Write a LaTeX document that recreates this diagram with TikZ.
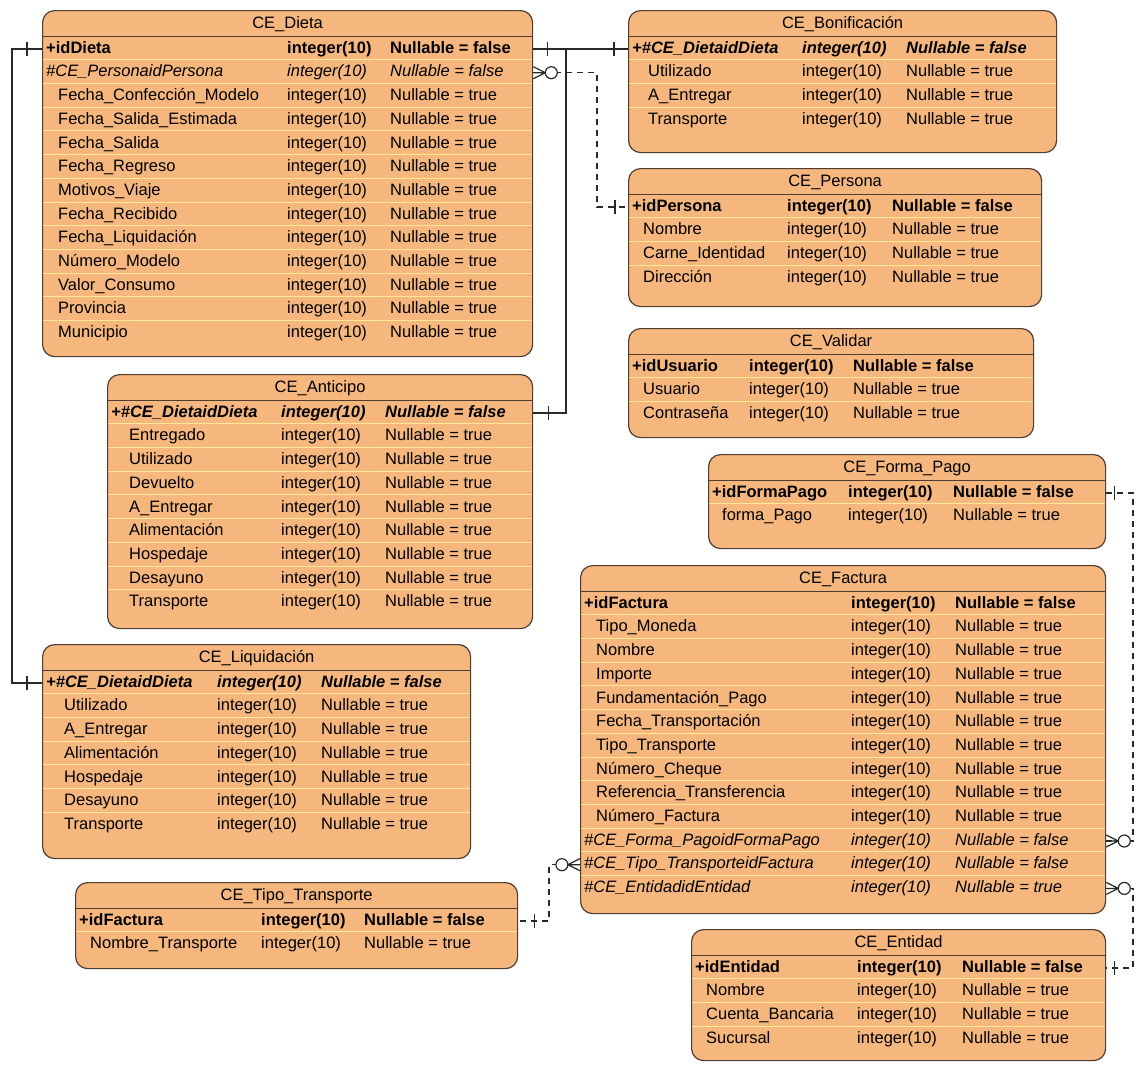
\documentclass[tikz,border=0pt]{standalone}
\usepackage{fontspec}
\setmainfont{Liberation Sans}
\usetikzlibrary{calc,decorations.markings}
\definecolor{naranja}{RGB}{246,183,126}
\definecolor{amarillo}{RGB}{255,232,150}
\definecolor{cafe}{RGB}{78,62,50}
\definecolor{gris}{RGB}{40,40,40}
\newcommand\letra{\fontsize{16.5}{19}\selectfont}
\tikzstyle{tabla}=[draw=cafe,fill=naranja,line width=1.2pt,rounded corners=12pt,anchor=north west,inner sep=0pt]
\tikzstyle{titulo}=[font=\letra,text height=12pt,text depth=3.5pt,inner sep=0pt]
\tikzstyle{campo}=[anchor=west,text height=12pt,text depth=3.5pt,inner ysep=0pt]
\tikzstyle{borde}=[draw=cafe,line width=1pt]
\tikzstyle{fila}=[draw=amarillo,line width=1pt]
\tikzstyle{rel}=[draw=gris,line width=1.2pt]
\tikzstyle{opc}=[rel,dash pattern=on 6pt off 5pt]
\tikzstyle{marca}=[draw=gris,solid,line width=1.2pt]
\tikzset{
  pk/.style={font=\letra\bfseries,inner xsep=0pt},
  fk/.style={font=\letra\itshape,inner xsep=0pt},
  pfk/.style={font=\letra\bfseries\itshape,inner xsep=0pt},
  nor/.style={font=\letra,inner xsep=#1},
  uno/.style={postaction={decorate,decoration={markings,
    mark=at position #1 with {\draw[marca] (0,-7pt) -- (0,7pt);}}}},
  muchos/.style={postaction={decorate,decoration={markings,
    mark=at position 0.1pt with {\draw[marca] (0,-6pt) -- (12pt,0) -- (0,6pt) (0,0) -- (12pt,0);
      \draw[marca,fill=white] (18pt,0) circle (6pt);}}}}
}
% #1 nombre, #2 esquina, #3 ancho, #4 alto, #5 titulo, #6 col. tipo, #7 col. nulo, #8 sangria, #9 filas
\newcommand\tabla[9]{%
  \node[tabla,minimum width=#3pt,minimum height=#4pt] (#1) at (#2) {};
  \node[titulo] (#1-t) at ($(#1.north)+(0,14)$) {#5};
  \draw[borde] ($(#1.north west)+(0,26)$) -- ($(#1.north east)+(0,26)$);
  \foreach \est/\nom/\nul [count=\idx] in {#9} {
    \ifnum\idx>1
      \draw[fila] ($(#1.north west)+(1,{26.15+23.7*(\idx-1)})$) -- ($(#1.north east)+(-1,{26.15+23.7*(\idx-1)})$);
    \fi
    \node[campo,\est=#8pt] (#1-\idx) at ($(#1.north west)+(4,{39+23.7*(\idx-1)})$) {\nom};
    \node[campo,\est=0pt] at ($(#1.north west)+(#6,{39+23.7*(\idx-1)})$) {integer(10)};
    \node[campo,\est=0pt] at ($(#1.north west)+(#7,{39+23.7*(\idx-1)})$) {Nullable = \nul};
  }
}

\begin{document}
\begin{tikzpicture}[x=1pt,y=-1pt]
\useasboundingbox (0,0) rectangle (1140,1068);

\tabla{dieta}{42,10}{490}{346}{CE\_Dieta}{245}{348}{12}{pk/+idDieta/false,
  fk/\#CE\_PersonaidPersona/false, nor/Fecha\_Confección\_Modelo/true,
  nor/Fecha\_Salida\_Estimada/true, nor/Fecha\_Salida/true, nor/Fecha\_Regreso/true,
  nor/Motivos\_Viaje/true, nor/Fecha\_Recibido/true, nor/Fecha\_Liquidación/true,
  nor/Número\_Modelo/true, nor/Valor\_Consumo/true, nor/Provincia/true, nor/Municipio/true}
\tabla{bonificacion}{628,10}{428}{142}{CE\_Bonificación}{174}{278}{16}{pfk/+\#CE\_DietaidDieta/false,
  nor/Utilizado/true, nor/A\_Entregar/true, nor/Transporte/true}
\tabla{persona}{628,168}{413}{138}{CE\_Persona}{159}{264}{11}{pk/+idPersona/false,
  nor/Nombre/true, nor/Carne\_Identidad/true, nor/Dirección/true}
\tabla{validar}{628,328}{405}{109}{CE\_Validar}{121}{225}{11}{pk/+idUsuario/false,
  nor/Usuario/true, nor/Contraseña/true}
\tabla{anticipo}{107,374}{425}{254}{CE\_Anticipo}{174}{278}{18}{pfk/+\#CE\_DietaidDieta/false,
  nor/Entregado/true, nor/Utilizado/true, nor/Devuelto/true, nor/A\_Entregar/true,
  nor/Alimentación/true, nor/Hospedaje/true, nor/Desayuno/true, nor/Transporte/true}
\tabla{liquidacion}{42,644}{428}{214}{CE\_Liquidación}{175}{279}{18}{pfk/+\#CE\_DietaidDieta/false,
  nor/Utilizado/true, nor/A\_Entregar/true, nor/Alimentación/true, nor/Hospedaje/true,
  nor/Desayuno/true, nor/Transporte/true}
\tabla{tipotransporte}{75,882}{442}{86}{CE\_Tipo\_Transporte}{186}{289}{11}{pk/+idFactura/false,
  nor/Nombre\_Transporte/true}
\tabla{formapago}{708,454}{397}{94}{CE\_Forma\_Pago}{140}{245}{10}{pk/+idFormaPago/false,
  nor/forma\_Pago/true}
\tabla{factura}{580,565}{525}{348}{CE\_Factura}{271}{375}{12}{pk/+idFactura/false,
  nor/Tipo\_Moneda/true, nor/Nombre/true, nor/Importe/true, nor/Fundamentación\_Pago/true,
  nor/Fecha\_Transportación/true, nor/Tipo\_Transporte/true, nor/Número\_Cheque/true,
  nor/Referencia\_Transferencia/true, nor/Número\_Factura/true,
  fk/\#CE\_Forma\_PagoidFormaPago/false, fk/\#CE\_Tipo\_TransporteidFactura/false,
  fk/\#CE\_EntidadidEntidad/true}
\tabla{entidad}{691,929}{414}{131}{CE\_Entidad}{166}{271}{11}{pk/+idEntidad/false,
  nor/Nombre/true, nor/Cuenta\_Bancaria/true, nor/Sucursal/true}

% relaciones
\draw[rel,uno=15pt,uno=-15pt] (dieta.west |- dieta-1) -- (12,0 |- dieta-1) |- (liquidacion.west |- liquidacion-1);
\draw[rel,uno=14pt,uno=-14pt] (dieta.east |- dieta-1) -- (bonificacion.west |- bonificacion-1);
\draw[rel,uno=15pt] (anticipo.east |- anticipo-1) -- (566,0 |- anticipo-1) -- (566,0 |- dieta-1);
\draw[opc,muchos,uno=-13pt] (dieta.east |- dieta-2) -- (597,0 |- dieta-2) |- (persona.west |- persona-1);
\draw[opc,muchos,uno=-8pt] (factura.east |- factura-11) -- (1133,0 |- factura-11) |- (formapago.east |- formapago-1);
\draw[opc,muchos,uno=-8pt] (factura.east |- factura-13) -- (1133,0 |- factura-13) |- (entidad.east |- entidad-1);
\draw[opc,muchos,uno=-16pt] (factura.west |- factura-12) -- (549,0 |- factura-12) |- (tipotransporte.east |- tipotransporte-1);

\end{tikzpicture}
\end{document}
